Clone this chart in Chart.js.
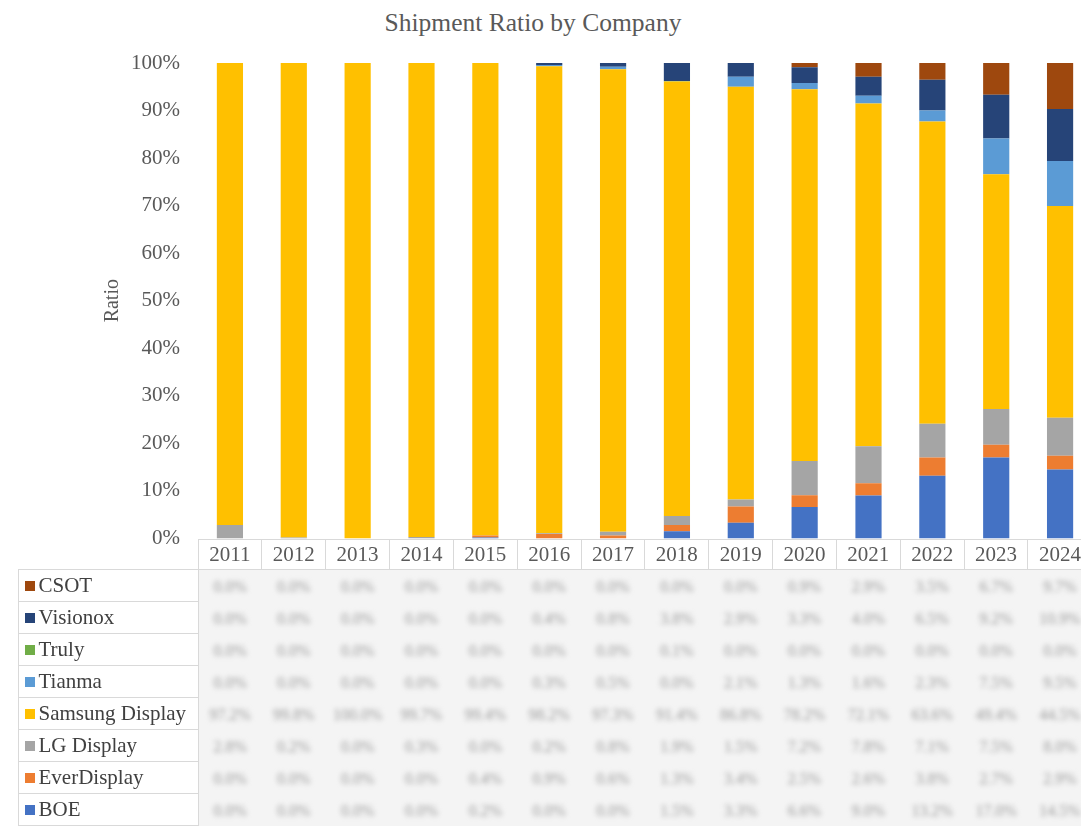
<!DOCTYPE html>
<html>
<head>
<meta charset="utf-8">
<script src="https://cdn.jsdelivr.net/npm/chart.js@4"></script>
<style>
  html, body { margin: 0; padding: 0; background: #fff; overflow: hidden; }
  body { width: 1081px; height: 828px; position: relative; font-family: "Liberation Serif", serif; }
  #title { position: absolute; top: 8px; left: 0; width: 1066px; text-align: center; font-size: 25.5px; color: #595959; }
  /* canvas runs past the table top: the y ticks reserve padding under the plot */
  #wrap { position: absolute; top: 0; left: 0; width: 1095px; height: 569px; }
  #tbl { position: absolute; left: 0; top: 539px; border-collapse: collapse; table-layout: fixed; }
  #tbl td { padding: 0; font-size: 21px; color: #595959; white-space: nowrap; overflow: hidden; }
  #tbl td.yr { border: 1px solid #d9d9d9; text-align: center; height: 29px; }
  #tbl td.lab { border: 1px solid #d9d9d9; height: 31px; padding-left: 6px; color: #404040; }
  #tbl td.val { background: #f4f4f4; text-align: center; }
  #tbl td.val span { filter: blur(2.5px); color: #9a9a9a; font-size: 16px; }
  .sw { display: inline-block; width: 10px; height: 10px; margin-right: 4px; vertical-align: 1px; }
</style>
</head>
<body>
<div id="title">Shipment Ratio by Company</div>
<div id="wrap"><canvas id="shipChart"></canvas></div>
<table id="tbl"></table>
<script>
const years = ["2011", "2012", "2013", "2014", "2015", "2016", "2017", "2018", "2019", "2020", "2021", "2022", "2023", "2024"];

// shares in %
const boe      = [0, 0, 0, 0, 0.2, 0, 0, 1.5, 3.3, 6.6, 9.0, 13.2, 17.0, 14.5];
const everDisp = [0, 0, 0, 0, 0.4, 0.9, 0.6, 1.3, 3.4, 2.5, 2.6, 3.8, 2.7, 2.9];
const lgDisp   = [2.8, 0.2, 0, 0.3, 0, 0.2, 0.8, 1.9, 1.5, 7.2, 7.8, 7.1, 7.5, 8.0];
const samsung  = [97.2, 99.8, 100, 99.7, 99.4, 98.2, 97.3, 91.4, 86.8, 78.2, 72.1, 63.6, 49.4, 44.5];
const tianma   = [0, 0, 0, 0, 0, 0.3, 0.5, 0, 2.1, 1.3, 1.6, 2.3, 7.5, 9.5];
const truly    = [0, 0, 0, 0, 0, 0, 0, 0.1, 0, 0, 0, 0, 0, 0];
const visionox = [0, 0, 0, 0, 0, 0.4, 0.8, 3.8, 2.9, 3.3, 4.0, 6.5, 9.2, 10.9];
const csot     = [0, 0, 0, 0, 0, 0, 0, 0, 0, 0.9, 2.9, 3.5, 6.7, 9.7];

const yTicks = [0, 10, 20, 30, 40, 50, 60, 70, 80, 90, 100];

// bottom-to-top stacking order
const series = [
  { label: "BOE", data: boe, color: "#4472C4" },
  { label: "EverDisplay", data: everDisp, color: "#ED7D31" },
  { label: "LG Display", data: lgDisp, color: "#A5A5A5" },
  { label: "Samsung Display", data: samsung, color: "#FFC000" },
  { label: "Tianma", data: tianma, color: "#5B9BD5" },
  { label: "Truly", data: truly, color: "#70AD47" },
  { label: "Visionox", data: visionox, color: "#264478" },
  { label: "CSOT", data: csot, color: "#9E480E" },
];

const serif = "'Liberation Serif', 'Times New Roman', serif";

const chart = new Chart(document.getElementById("shipChart"), {
  type: "bar",
  data: {
    labels: years,
    datasets: series.map((s) => ({
      label: s.label,
      data: s.data,
      backgroundColor: s.color,
      borderWidth: 0,
      barPercentage: 0.41,
      categoryPercentage: 1,
    })),
  },
  options: {
    responsive: true,
    maintainAspectRatio: false,
    animation: false,
    layout: { padding: { top: 63, right: 3, left: 0, bottom: 0 } },
    plugins: {
      legend: { display: false },
      tooltip: { enabled: false },
    },
    scales: {
      x: { stacked: true, display: false },
      y: {
        stacked: true,
        min: 0,
        max: 100,
        afterBuildTicks: (s) => { s.ticks = yTicks.map((v) => ({ value: v })); },
        afterFit: (s) => { s.width = 198; },
        grid: { display: false, drawTicks: false },
        border: { display: false },
        ticks: {
          padding: 18,
          color: "#595959",
          font: { family: serif, size: 21 },
          callback: (v) => v + "%",
        },
        title: {
          display: true,
          text: "Ratio",
          color: "#595959",
          font: { family: serif, size: 20 },
          padding: { top: 101 },
        },
      },
    },
  },
});

// data table under the plot, columns aligned with the x scale
const area = chart.chartArea;
const colW = (area.right - area.left) / years.length;
const tbl = document.getElementById("tbl");
let html = "<colgroup><col style='width:18px'><col style='width:" + (area.left - 18) + "px'>";
years.forEach(() => { html += "<col style='width:" + colW + "px'>"; });
html += "</colgroup><tr><td></td><td></td>";
years.forEach((y) => { html += "<td class='yr'>" + y + "</td>"; });
html += "</tr>";
series.slice().reverse().forEach((s) => {
  html += "<tr><td></td><td class='lab'><span class='sw' style='background:" + s.color + "'></span>" + s.label + "</td>";
  s.data.forEach((v) => { html += "<td class='val'><span>" + v.toFixed(1) + "%</span></td>"; });
  html += "</tr>";
});
tbl.innerHTML = html;
tbl.style.width = (area.right) + "px";
</script>
</body>
</html>
